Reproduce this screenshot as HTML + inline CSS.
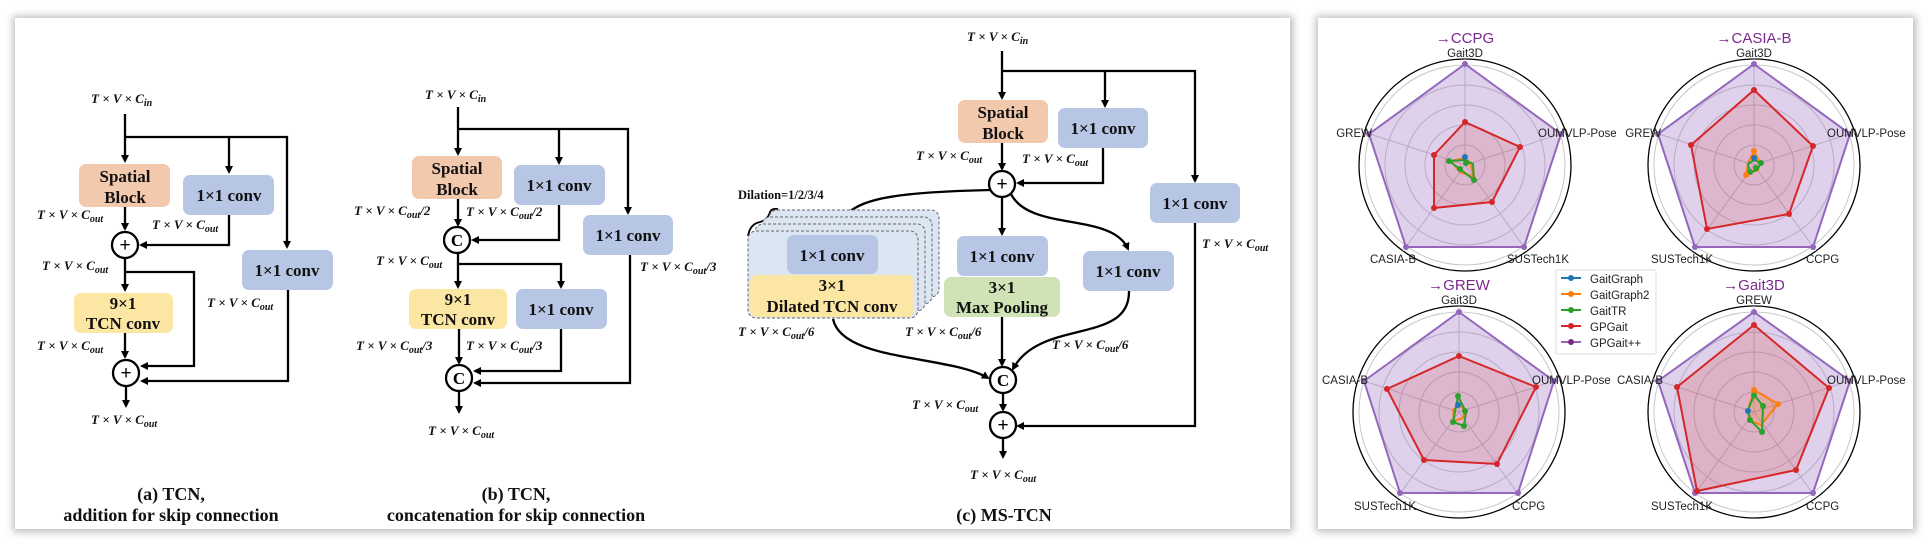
<!DOCTYPE html>
<html><head><meta charset="utf-8"><style>
html,body{margin:0;padding:0;background:#fff;}
svg{display:block;}
.bx{font-family:"Liberation Serif",serif;font-weight:bold;font-size:17px;text-anchor:middle;fill:#111;}
.d{font-family:"Liberation Serif",serif;font-weight:bold;font-style:italic;font-size:13px;fill:#111;}
.s{font-size:10px;}
.cap{font-family:"Liberation Serif",serif;font-weight:bold;font-size:18px;text-anchor:middle;fill:#111;}
.ln{stroke:#000;stroke-width:2.3;fill:none;}
.lb{font-family:"Liberation Sans",sans-serif;font-size:11.5px;fill:#222;}
.tt{font-family:"Liberation Sans",sans-serif;font-size:15px;fill:#7a2a8c;text-anchor:middle;}
.g{stroke:#c8c8c8;stroke-width:1;fill:none;}
</style></head><body>
<svg width="1930" height="558" viewBox="0 0 1930 558" xmlns="http://www.w3.org/2000/svg">
<defs>
<marker id="ar" markerWidth="8" markerHeight="8" refX="6" refY="4" orient="auto" markerUnits="userSpaceOnUse"><path d="M0,0 L8,4 L0,8 z" fill="#000"/></marker>
<filter id="sh" x="-5%" y="-5%" width="110%" height="110%"><feGaussianBlur stdDeviation="4"/></filter>
</defs>
<rect width="1930" height="558" fill="#fff"/>
<rect x="13" y="16" width="1280" height="516" fill="#bbb" filter="url(#sh)"/>
<rect x="15" y="18" width="1275" height="511" fill="#fff"/>
<rect x="1316" y="16" width="600" height="516" fill="#bbb" filter="url(#sh)"/>
<rect x="1318" y="18" width="595" height="511" fill="#fff"/>

<!-- ===== Panel (a) ===== -->
<text class="d" x="91" y="103">T × V × C<tspan class="s" dy="3">in</tspan></text>
<path class="ln" d="M125,114 V161" marker-end="url(#ar)"/>
<path class="ln" d="M125,137 H287 V247"/>
<path class="ln" d="M287,240 V247" marker-end="url(#ar)"/>
<path class="ln" d="M229,137 V172" marker-end="url(#ar)"/>
<rect x="79" y="164" width="91" height="43" rx="7" fill="#F3C9AD"/>
<text class="bx" x="125" y="182">Spatial</text><text class="bx" x="125" y="203">Block</text>
<rect x="183" y="175" width="91" height="40" rx="7" fill="#B6C6E4"/>
<text class="bx" x="229" y="201">1×1 conv</text>
<text class="d" x="37" y="219">T × V × C<tspan class="s" dy="3">out</tspan></text>
<text class="d" x="152" y="229">T × V × C<tspan class="s" dy="3">out</tspan></text>
<path class="ln" d="M125,207 V229" marker-end="url(#ar)"/>
<path class="ln" d="M229,215 V245 H141" marker-end="url(#ar)"/>
<circle cx="125" cy="245" r="13" fill="#fff" stroke="#000" stroke-width="2.3"/>
<text x="125" y="251" text-anchor="middle" font-family="Liberation Sans" font-size="19" fill="#000">+</text>
<text class="d" x="42" y="270">T × V × C<tspan class="s" dy="3">out</tspan></text>
<path class="ln" d="M125,258 V290" marker-end="url(#ar)"/>
<path class="ln" d="M125,272 H194 V366 H142" marker-end="url(#ar)"/>
<rect x="74" y="293" width="99" height="40" rx="7" fill="#FCE6A3"/>
<text class="bx" x="123" y="309">9×1</text><text class="bx" x="123" y="329">TCN conv</text>
<rect x="242" y="250" width="91" height="40" rx="7" fill="#B6C6E4"/>
<text class="bx" x="287" y="276">1×1 conv</text>
<text class="d" x="207" y="307">T × V × C<tspan class="s" dy="3">out</tspan></text>
<text class="d" x="37" y="350">T × V × C<tspan class="s" dy="3">out</tspan></text>
<path class="ln" d="M125,333 V357" marker-end="url(#ar)"/>
<path class="ln" d="M288,290 V381 H142" marker-end="url(#ar)" stroke-width="2.8"/>
<circle cx="126" cy="373" r="13" fill="#fff" stroke="#000" stroke-width="2.3"/>
<text x="126" y="379" text-anchor="middle" font-family="Liberation Sans" font-size="19" fill="#000">+</text>
<path class="ln" d="M126,386 V406" marker-end="url(#ar)"/>
<text class="d" x="91" y="424">T × V × C<tspan class="s" dy="3">out</tspan></text>
<text class="cap" x="171" y="500">(a)  TCN,</text>
<text class="cap" x="171" y="521">addition for skip connection</text>

<!-- ===== Panel (b) ===== -->
<text class="d" x="425" y="99">T × V × C<tspan class="s" dy="3">in</tspan></text>
<path class="ln" d="M458,107 V154" marker-end="url(#ar)"/>
<path class="ln" d="M458,129 H628 V213" marker-end="url(#ar)"/>
<path class="ln" d="M559,129 V163" marker-end="url(#ar)"/>
<rect x="412" y="156" width="90" height="43" rx="7" fill="#F3C9AD"/>
<text class="bx" x="457" y="174">Spatial</text><text class="bx" x="457" y="195">Block</text>
<rect x="514" y="165" width="91" height="40" rx="7" fill="#B6C6E4"/>
<text class="bx" x="559" y="191">1×1 conv</text>
<text class="d" x="354" y="215">T × V × C<tspan class="s" dy="3">out</tspan><tspan dy="-3">/2</tspan></text>
<text class="d" x="466" y="216">T × V × C<tspan class="s" dy="3">out</tspan><tspan dy="-3">/2</tspan></text>
<path class="ln" d="M458,199 V225" marker-end="url(#ar)"/>
<path class="ln" d="M559,205 V240 H473" marker-end="url(#ar)"/>
<circle cx="457" cy="240" r="13" fill="#fff" stroke="#000" stroke-width="2.3"/>
<text x="457" y="246" text-anchor="middle" font-family="Liberation Serif" font-weight="bold" font-size="17" fill="#000">C</text>
<text class="d" x="376" y="265">T × V × C<tspan class="s" dy="3">out</tspan></text>
<path class="ln" d="M458,253 V287" marker-end="url(#ar)"/>
<path class="ln" d="M458,264 H561 V287" marker-end="url(#ar)"/>
<rect x="409" y="289" width="98" height="40" rx="7" fill="#FCE6A3"/>
<text class="bx" x="458" y="305">9×1</text><text class="bx" x="458" y="325">TCN conv</text>
<rect x="516" y="289" width="91" height="40" rx="7" fill="#B6C6E4"/>
<text class="bx" x="561" y="315">1×1 conv</text>
<rect x="583" y="215" width="90" height="40" rx="7" fill="#B6C6E4"/>
<text class="bx" x="628" y="241">1×1 conv</text>
<text class="d" x="640" y="271">T × V × C<tspan class="s" dy="3">out</tspan><tspan dy="-3">/3</tspan></text>
<text class="d" x="356" y="350">T × V × C<tspan class="s" dy="3">out</tspan><tspan dy="-3">/3</tspan></text>
<text class="d" x="466" y="350">T × V × C<tspan class="s" dy="3">out</tspan><tspan dy="-3">/3</tspan></text>
<path class="ln" d="M459,329 V363" marker-end="url(#ar)"/>
<path class="ln" d="M561,329 V371 H475" marker-end="url(#ar)"/>
<path class="ln" d="M630,255 V383 H475" marker-end="url(#ar)"/>
<circle cx="459" cy="378" r="13" fill="#fff" stroke="#000" stroke-width="2.3"/>
<text x="459" y="384" text-anchor="middle" font-family="Liberation Serif" font-weight="bold" font-size="17" fill="#000">C</text>
<path class="ln" d="M459,391 V412" marker-end="url(#ar)"/>
<text class="d" x="428" y="435">T × V × C<tspan class="s" dy="3">out</tspan></text>
<text class="cap" x="516" y="500">(b)  TCN,</text>
<text class="cap" x="516" y="521">concatenation for skip connection</text>

<!-- ===== Panel (c) ===== -->
<text class="d" x="967" y="41">T × V × C<tspan class="s" dy="3">in</tspan></text>
<path class="ln" d="M1002,51 V98" marker-end="url(#ar)"/>
<path class="ln" d="M1002,71 H1195 V181" marker-end="url(#ar)"/>
<path class="ln" d="M1105,71 V106" marker-end="url(#ar)"/>
<rect x="958" y="100" width="90" height="43" rx="7" fill="#F3C9AD"/>
<text class="bx" x="1003" y="118">Spatial</text><text class="bx" x="1003" y="139">Block</text>
<rect x="1058" y="108" width="90" height="40" rx="7" fill="#B6C6E4"/>
<text class="bx" x="1103" y="134">1×1 conv</text>
<text class="d" x="916" y="160">T × V × C<tspan class="s" dy="3">out</tspan></text>
<text class="d" x="1022" y="163">T × V × C<tspan class="s" dy="3">out</tspan></text>
<path class="ln" d="M1002,143 V169" marker-end="url(#ar)"/>
<path class="ln" d="M1103,148 V183 H1018" marker-end="url(#ar)"/>
<rect x="1150" y="183" width="90" height="40" rx="7" fill="#B6C6E4"/>
<text class="bx" x="1195" y="209">1×1 conv</text>
<text class="d" x="1202" y="248">T × V × C<tspan class="s" dy="3">out</tspan></text>
<path class="ln" d="M1195,223 V426 H1018" marker-end="url(#ar)"/>
<path class="ln" d="M990,190 C900,192 852,198 843,221" marker-end="url(#ar)"/>
<path class="ln" d="M1011,194 C1030,232 1112,212 1128,249" marker-end="url(#ar)"/>
<path class="ln" d="M1129,291 C1130,345 1040,318 1013,369" marker-end="url(#ar)"/>
<path class="ln" d="M833,319 C842,362 950,355 988,378" marker-end="url(#ar)"/>
<circle cx="1002" cy="184" r="13" fill="#fff" stroke="#000" stroke-width="2.3"/>
<text x="1002" y="190" text-anchor="middle" font-family="Liberation Sans" font-size="19" fill="#000">+</text>
<path class="ln" d="M1002,197 V234" marker-end="url(#ar)"/>
<rect x="957" y="236" width="91" height="40" rx="7" fill="#B6C6E4"/>
<text class="bx" x="1002" y="262">1×1 conv</text>
<rect x="944" y="277" width="116" height="40" rx="7" fill="#CFE3B6"/>
<text class="bx" x="1002" y="293">3×1</text><text class="bx" x="1002" y="313">Max Pooling</text>
<rect x="1083" y="251" width="91" height="40" rx="7" fill="#B6C6E4"/>
<text class="bx" x="1128" y="277">1×1 conv</text>
<text x="738" y="199" font-family="Liberation Serif" font-weight="bold" font-size="12.5" fill="#111">Dilation=1/2/3/4</text>
<path d="M748,236 Q750,224 760,222 Q768,220 770,212 Q772,208 778,209" stroke="#000" stroke-width="1.8" fill="none"/>
<rect x="769" y="210" width="170" height="87" rx="8" fill="#DCE5F2" stroke="#666" stroke-dasharray="3 2"/>
<rect x="762" y="217" width="170" height="87" rx="8" fill="#DCE5F2" stroke="#666" stroke-dasharray="3 2"/>
<rect x="755" y="224" width="170" height="87" rx="8" fill="#DCE5F2" stroke="#666" stroke-dasharray="3 2"/>
<rect x="748" y="231" width="170" height="87" rx="8" fill="#DCE5F2" stroke="#666" stroke-dasharray="3 2"/>
<rect x="787" y="235" width="91" height="39" rx="7" fill="#B6C6E4"/>
<text class="bx" x="832" y="261">1×1 conv</text>
<rect x="750" y="275" width="164" height="42" rx="7" fill="#FCE6A3"/>
<text class="bx" x="832" y="291">3×1</text><text class="bx" x="832" y="312">Dilated TCN conv</text>
<text class="d" x="738" y="336">T × V × C<tspan class="s" dy="3">out</tspan><tspan dy="-3">/6</tspan></text>
<text class="d" x="905" y="336">T × V × C<tspan class="s" dy="3">out</tspan><tspan dy="-3">/6</tspan></text>
<text class="d" x="1052" y="349">T × V × C<tspan class="s" dy="3">out</tspan><tspan dy="-3">/6</tspan></text>
<path class="ln" d="M1002,317 V365" marker-end="url(#ar)"/>
<circle cx="1003" cy="380" r="13" fill="#fff" stroke="#000" stroke-width="2.3"/>
<text x="1003" y="386" text-anchor="middle" font-family="Liberation Serif" font-weight="bold" font-size="17" fill="#000">C</text>
<text class="d" x="912" y="409">T × V × C<tspan class="s" dy="3">out</tspan></text>
<path class="ln" d="M1003,393 V410" marker-end="url(#ar)"/>
<circle cx="1003" cy="425" r="13" fill="#fff" stroke="#000" stroke-width="2.3"/>
<text x="1003" y="431" text-anchor="middle" font-family="Liberation Sans" font-size="19" fill="#000">+</text>
<path class="ln" d="M1003,438 V457" marker-end="url(#ar)"/>
<text class="d" x="970" y="479">T × V × C<tspan class="s" dy="3">out</tspan></text>
<text class="cap" x="1004" y="521">(c)  MS-TCN</text>

<!-- ===== Radar charts ===== -->
<g>
<circle cx="1465" cy="165" r="20" class="g"/><circle cx="1465" cy="165" r="40" class="g"/><circle cx="1465" cy="165" r="60" class="g"/><circle cx="1465" cy="165" r="80" class="g"/><circle cx="1465" cy="165" r="100" class="g"/>
<circle cx="1465" cy="165" r="106" stroke="#000" stroke-width="1.3" fill="none"/>
<path class="g" d="M1465,165 L1465,59 M1465,165 L1566,132 M1465,165 L1527,251 M1465,165 L1403,251 M1465,165 L1364,132"/>
<polygon points="1465,64 1561,134 1524,247 1406,247 1369,134" fill="rgba(148,103,189,0.3)" stroke="#9467bd" stroke-width="2"/>
<g fill="#9467bd"><circle cx="1465" cy="64" r="3"/><circle cx="1561" cy="134" r="3"/><circle cx="1524" cy="247" r="3"/><circle cx="1406" cy="247" r="3"/><circle cx="1369" cy="134" r="3"/></g>
<polygon points="1465,122 1520,147 1492,202 1434,208 1434,155" fill="rgba(214,39,40,0.15)" stroke="#d62728" stroke-width="2"/>
<g fill="#d62728"><circle cx="1465" cy="122" r="3"/><circle cx="1520" cy="147" r="3"/><circle cx="1492" cy="202" r="3"/><circle cx="1434" cy="208" r="3"/><circle cx="1434" cy="155" r="3"/></g>
<polygon points="1465,158 1470,163 1474,177 1460,172 1451,161" fill="none" stroke="#ff7f0e" stroke-width="2"/>
<polygon points="1465,160 1473,164 1474,180 1460,169 1449,161" fill="none" stroke="#2ca02c" stroke-width="2"/>
<g fill="#2ca02c"><circle cx="1474" cy="180" r="3"/><circle cx="1449" cy="161" r="3"/><circle cx="1460" cy="169" r="3"/><circle cx="1466" cy="163" r="3"/></g>
<circle cx="1465" cy="157" r="3" fill="#1f77b4"/>
<text class="tt" x="1465" y="43">→CCPG</text>
<text class="lb" x="1465" y="57" text-anchor="middle">Gait3D</text>
<text class="lb" x="1372" y="137" text-anchor="end">GREW</text>
<text class="lb" x="1538" y="137">OUMVLP-Pose</text>
<text class="lb" x="1416" y="263" text-anchor="end">CASIA-B</text>
<text class="lb" x="1507" y="263">SUSTech1K</text>
</g>
<g>
<circle cx="1754" cy="165" r="20" class="g"/><circle cx="1754" cy="165" r="40" class="g"/><circle cx="1754" cy="165" r="60" class="g"/><circle cx="1754" cy="165" r="80" class="g"/><circle cx="1754" cy="165" r="100" class="g"/>
<circle cx="1754" cy="165" r="106" stroke="#000" stroke-width="1.3" fill="none"/>
<path class="g" d="M1754,165 L1754,59 M1754,165 L1855,132 M1754,165 L1816,251 M1754,165 L1692,251 M1754,165 L1653,132"/>
<polygon points="1754,64 1850,134 1813,247 1695,247 1658,134" fill="rgba(148,103,189,0.3)" stroke="#9467bd" stroke-width="2"/>
<g fill="#9467bd"><circle cx="1754" cy="64" r="3"/><circle cx="1850" cy="134" r="3"/><circle cx="1813" cy="247" r="3"/><circle cx="1695" cy="247" r="3"/><circle cx="1658" cy="134" r="3"/></g>
<polygon points="1754,90 1813,146 1789,214 1707,229 1691,145" fill="rgba(214,39,40,0.15)" stroke="#d62728" stroke-width="2"/>
<g fill="#d62728"><circle cx="1754" cy="90" r="3"/><circle cx="1813" cy="146" r="3"/><circle cx="1789" cy="214" r="3"/><circle cx="1707" cy="229" r="3"/><circle cx="1691" cy="145" r="3"/></g>
<polygon points="1754,151 1760,163 1758,170 1746,175 1748,163" fill="none" stroke="#ff7f0e" stroke-width="2"/>
<polygon points="1754,160 1761,163 1757,170 1750,172 1748,164" fill="none" stroke="#2ca02c" stroke-width="2"/>
<g fill="#2ca02c"><circle cx="1761" cy="163" r="3"/><circle cx="1750" cy="172" r="3"/><circle cx="1756" cy="168" r="3"/></g>
<circle cx="1746" cy="175" r="3" fill="#ff7f0e"/><circle cx="1754" cy="151" r="3" fill="#ff7f0e"/>
<circle cx="1754" cy="158" r="3" fill="#1f77b4"/>
<text class="tt" x="1754" y="43">→CASIA-B</text>
<text class="lb" x="1754" y="57" text-anchor="middle">Gait3D</text>
<text class="lb" x="1661" y="137" text-anchor="end">GREW</text>
<text class="lb" x="1827" y="137">OUMVLP-Pose</text>
<text class="lb" x="1713" y="263" text-anchor="end">SUSTech1K</text>
<text class="lb" x="1806" y="263">CCPG</text>
</g>
<g>
<circle cx="1459" cy="412" r="20" class="g"/><circle cx="1459" cy="412" r="40" class="g"/><circle cx="1459" cy="412" r="60" class="g"/><circle cx="1459" cy="412" r="80" class="g"/><circle cx="1459" cy="412" r="100" class="g"/>
<circle cx="1459" cy="412" r="106" stroke="#000" stroke-width="1.3" fill="none"/>
<path class="g" d="M1459,412 L1459,306 M1459,412 L1560,379 M1459,412 L1521,498 M1459,412 L1397,498 M1459,412 L1358,379"/>
<polygon points="1459,312 1554,381 1518,493 1400,493 1364,381" fill="rgba(148,103,189,0.3)" stroke="#9467bd" stroke-width="2"/>
<g fill="#9467bd"><circle cx="1459" cy="312" r="3"/><circle cx="1554" cy="381" r="3"/><circle cx="1518" cy="493" r="3"/><circle cx="1400" cy="493" r="3"/><circle cx="1364" cy="381" r="3"/></g>
<polygon points="1459,356 1536,387 1497,464 1424,460 1387,389" fill="rgba(214,39,40,0.15)" stroke="#d62728" stroke-width="2"/>
<g fill="#d62728"><circle cx="1459" cy="356" r="3"/><circle cx="1536" cy="387" r="3"/><circle cx="1497" cy="464" r="3"/><circle cx="1424" cy="460" r="3"/><circle cx="1387" cy="389" r="3"/></g>
<polygon points="1459,405 1465,410 1463,418 1454,421 1453,410" fill="none" stroke="#ff7f0e" stroke-width="2"/>
<polygon points="1458,396 1466,412 1464,426 1453,422 1455,412" fill="none" stroke="#2ca02c" stroke-width="2"/>
<g fill="#2ca02c"><circle cx="1458" cy="396" r="3"/><circle cx="1464" cy="426" r="3"/><circle cx="1453" cy="422" r="3"/><circle cx="1465" cy="411" r="3"/></g>
<circle cx="1458" cy="405" r="3" fill="#1f77b4"/>
<text class="tt" x="1459" y="290">→GREW</text>
<text class="lb" x="1459" y="304" text-anchor="middle">Gait3D</text>
<text class="lb" x="1368" y="384" text-anchor="end">CASIA-B</text>
<text class="lb" x="1532" y="384">OUMVLP-Pose</text>
<text class="lb" x="1416" y="510" text-anchor="end">SUSTech1K</text>
<text class="lb" x="1512" y="510">CCPG</text>
</g>
<g>
<circle cx="1754" cy="412" r="20" class="g"/><circle cx="1754" cy="412" r="40" class="g"/><circle cx="1754" cy="412" r="60" class="g"/><circle cx="1754" cy="412" r="80" class="g"/><circle cx="1754" cy="412" r="100" class="g"/>
<circle cx="1754" cy="412" r="106" stroke="#000" stroke-width="1.3" fill="none"/>
<path class="g" d="M1754,412 L1754,306 M1754,412 L1855,379 M1754,412 L1816,498 M1754,412 L1692,498 M1754,412 L1653,379"/>
<polygon points="1754,312 1850,381 1813,493 1695,493 1658,381" fill="rgba(148,103,189,0.3)" stroke="#9467bd" stroke-width="2"/>
<g fill="#9467bd"><circle cx="1754" cy="312" r="3"/><circle cx="1850" cy="381" r="3"/><circle cx="1813" cy="493" r="3"/><circle cx="1695" cy="493" r="3"/><circle cx="1658" cy="381" r="3"/></g>
<polygon points="1754,325 1829,388 1796,470 1697,491 1677,387" fill="rgba(214,39,40,0.18)" stroke="#d62728" stroke-width="2"/>
<g fill="#d62728"><circle cx="1754" cy="325" r="3"/><circle cx="1829" cy="388" r="3"/><circle cx="1796" cy="470" r="3"/><circle cx="1697" cy="491" r="3"/><circle cx="1677" cy="387" r="3"/></g>
<polygon points="1754,390 1778,404 1761,425 1749,420 1748,410" fill="rgba(255,127,14,0.2)" stroke="#ff7f0e" stroke-width="2"/>
<polygon points="1754,395 1763,406 1762,432 1750,420 1748,410" fill="none" stroke="#2ca02c" stroke-width="2"/>
<g fill="#2ca02c"><circle cx="1754" cy="395" r="3"/><circle cx="1762" cy="432" r="3"/><circle cx="1750" cy="420" r="3"/><circle cx="1763" cy="406" r="3"/></g>
<circle cx="1778" cy="404" r="3" fill="#ff7f0e"/><circle cx="1754" cy="390" r="3" fill="#ff7f0e"/>
<circle cx="1748" cy="411" r="3" fill="#1f77b4"/>
<text class="tt" x="1754" y="290">→Gait3D</text>
<text class="lb" x="1754" y="304" text-anchor="middle">GREW</text>
<text class="lb" x="1663" y="384" text-anchor="end">CASIA-B</text>
<text class="lb" x="1827" y="384">OUMVLP-Pose</text>
<text class="lb" x="1713" y="510" text-anchor="end">SUSTech1K</text>
<text class="lb" x="1806" y="510">CCPG</text>
</g>
<rect x="1556" y="270" width="100" height="84" rx="2" fill="#fff" stroke="#ddd"/>
<g stroke-width="2">
<line x1="1561" y1="278" x2="1581" y2="278" stroke="#1f77b4"/><circle cx="1571" cy="278" r="3" fill="#1f77b4"/>
<line x1="1561" y1="294" x2="1581" y2="294" stroke="#ff7f0e"/><circle cx="1571" cy="294" r="3" fill="#ff7f0e"/>
<line x1="1561" y1="310" x2="1581" y2="310" stroke="#2ca02c"/><circle cx="1571" cy="310" r="3" fill="#2ca02c"/>
<line x1="1561" y1="326" x2="1581" y2="326" stroke="#d62728"/><circle cx="1571" cy="326" r="3" fill="#d62728"/>
<line x1="1561" y1="342" x2="1581" y2="342" stroke="#9467bd"/><circle cx="1571" cy="342" r="3" fill="#7a2a8c"/>
</g>
<text class="lb" x="1590" y="283">GaitGraph</text>
<text class="lb" x="1590" y="299">GaitGraph2</text>
<text class="lb" x="1590" y="315">GaitTR</text>
<text class="lb" x="1590" y="331">GPGait</text>
<text class="lb" x="1590" y="347">GPGait++</text>
</svg>
</body></html>
